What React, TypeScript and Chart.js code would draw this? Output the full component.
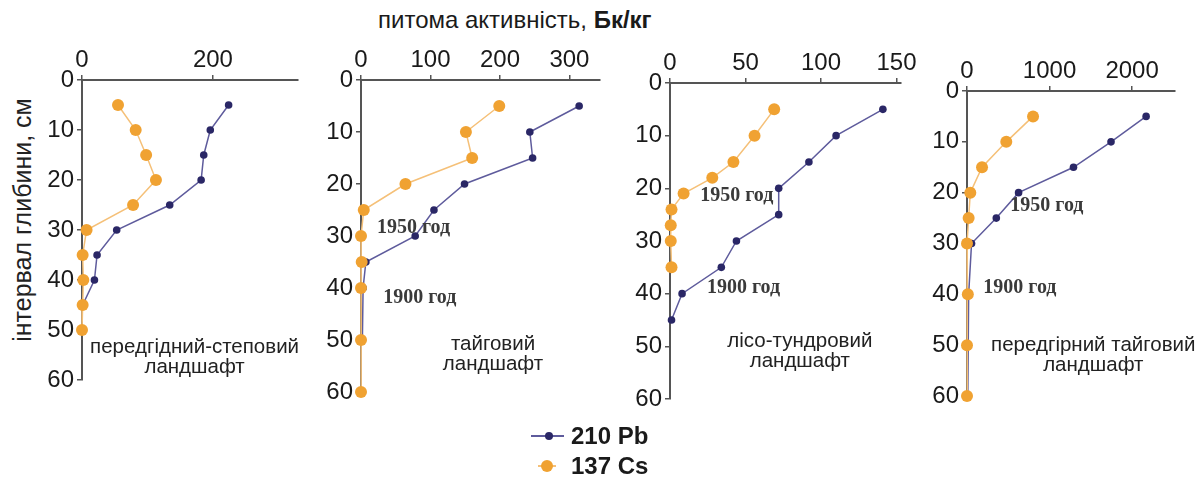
import React, { useEffect, useRef } from "react";
import { Chart, registerables } from "chart.js";

Chart.register(...registerables);
Chart.defaults.font.family = "'Liberation Sans', Arial, sans-serif";

// Depth of sampling interval, cm, and specific activity, Bq/kg, per landscape
const steppeDepthPb = [5, 10, 15, 20, 25, 30, 35, 40, 45];
const steppePb = [224, 196, 186, 182, 134, 53, 23, 19, 1];
const steppeDepthCs = [5, 10, 15, 20, 25, 30, 35, 40, 45, 50];
const steppeCs = [55, 82, 98, 113, 78, 7, 1, 2, 1, 0];

const taigaDepthPb = [5, 10, 15, 20, 25, 30, 35, 40, 50];
const taigaPb = [314, 243, 247, 149, 105, 78, 7, 3, 2];
const taigaDepthCs = [5, 10, 15, 20, 25, 30, 35, 40, 50, 60];
const taigaCs = [199, 151, 160, 64, 4, 0, 1, 0, 0, 0];

const tundraDepthPb = [5, 10, 15, 20, 25, 30, 35, 40, 45];
const tundraPb = [141, 110, 92, 72, 72, 44, 34, 8, 1];
const tundraDepthCs = [5, 10, 15, 18, 21, 24, 27, 30, 35];
const tundraCs = [69, 56, 42, 28, 9, 1, 0.5, 0.5, 1];

const foothillDepthPb = [5, 10, 15, 20, 25, 30, 40, 50, 60];
const foothillPb = [2170, 1745, 1290, 625, 355, 55, 20, 15, 10];
const foothillDepthCs = [5, 10, 15, 20, 25, 30, 40, 50, 60];
const foothillCs = [800, 476, 182, 40, 20, 0, 10, 0, 0];

// Axis tick values
const depthTicks = [0, 10, 20, 30, 40, 50, 60];
const steppeTicks = [0, 200];
const taigaTicks = [0, 100, 200, 300];
const tundraTicks = [0, 50, 100, 150];
const foothillTicks = [0, 1000, 2000];

const PB_LABEL = "210 Pb";
const CS_LABEL = "137 Cs";

const PB_DOT = "#2a2766";
const PB_LINE = "#5e5b9c";
const CS_DOT = "#f0a232";
const CS_LINE = "#f5c078";
const AXIS = "#555555";
const INK = "#1a1a1a";

const AXIS_W = 45;
const AXIS_H = 45;
const PAD_R = 34;
const PAD_B = 18;

type Note = { lines: string[]; x: number; y: number; kind: "year" | "place" };

type PanelSpec = {
  left: number;
  top: number;
  width: number;
  height: number;
  xMax: number;
  xTicks: number[];
  pbDepth: number[];
  pb: number[];
  csDepth: number[];
  cs: number[];
  notes: Note[];
};

const panels: PanelSpec[] = [
  {
    left: 82, top: 80, width: 216, height: 300, xMax: 330, xTicks: steppeTicks,
    pbDepth: steppeDepthPb, pb: steppePb, csDepth: steppeDepthCs, cs: steppeCs,
    notes: [{ lines: ["передгідний-степовий", "ландшафт"], x: 172, y: 53.4, kind: "place" }],
  },
  {
    left: 361, top: 80, width: 239, height: 312, xMax: 344, xTicks: taigaTicks,
    pbDepth: taigaDepthPb, pb: taigaPb, csDepth: taigaDepthCs, cs: taigaCs,
    notes: [
      { lines: ["1950 год"], x: 23, y: 28.5, kind: "year" },
      { lines: ["1900 год"], x: 32, y: 41.9, kind: "year" },
      { lines: ["тайговий", "ландшафт"], x: 190, y: 50.8, kind: "place" },
    ],
  },
  {
    left: 670, top: 83, width: 231, height: 316, xMax: 153, xTicks: tundraTicks,
    pbDepth: tundraDepthPb, pb: tundraPb, csDepth: tundraDepthCs, cs: tundraCs,
    notes: [
      { lines: ["1950 год"], x: 20, y: 21.4, kind: "year" },
      { lines: ["1900 год"], x: 24.5, y: 38.9, kind: "year" },
      { lines: ["лісо-тундровий", "ландшафт"], x: 86, y: 49.1, kind: "place" },
    ],
  },
  {
    left: 967, top: 91, width: 208, height: 305, xMax: 2520, xTicks: foothillTicks,
    pbDepth: foothillDepthPb, pb: foothillPb, csDepth: foothillDepthCs, cs: foothillCs,
    notes: [
      { lines: ["1950 год"], x: 525, y: 22.6, kind: "year" },
      { lines: ["1900 год"], x: 198, y: 38.8, kind: "year" },
      { lines: ["передгірний тайговий", "ландшафт"], x: 1530, y: 50, kind: "place" },
    ],
  },
];

const toPoints = (depth: number[], values: number[]) =>
  depth.map((d, i) => ({ x: values[i], y: d }));

// Draws the year markers and landscape captions in data coordinates
const makeNotesPlugin = (notes: Note[]) => ({
  id: "notes",
  afterDatasetsDraw(chart: any) {
    const { ctx } = chart;
    const xs = chart.scales.x;
    const ys = chart.scales.y;
    ctx.save();
    for (const n of notes) {
      const px = xs.getPixelForValue(n.x);
      const py = ys.getPixelForValue(n.y);
      ctx.textBaseline = "middle";
      if (n.kind === "year") {
        ctx.font = "bold 20px 'Liberation Serif', 'Times New Roman', serif";
        ctx.fillStyle = "#3a3a3a";
        ctx.textAlign = "left";
        ctx.fillText(n.lines[0], px, py);
      } else {
        ctx.font = "20.5px 'Liberation Sans', Arial, sans-serif";
        ctx.fillStyle = "#222";
        ctx.textAlign = "center";
        n.lines.forEach((t, i) => ctx.fillText(t, px, py + i * 20));
      }
    }
    ctx.restore();
  },
});

const axisCommon = {
  type: "linear" as const,
  grid: { drawOnChartArea: false, drawTicks: true, tickLength: 5, color: AXIS, lineWidth: 1.5 },
  border: { display: true, color: AXIS, width: 2 },
};

const plainLabel = (v: number | string) => String(v);

function Panel({ p }: { p: PanelSpec }) {
  const ref = useRef<HTMLCanvasElement>(null);
  const w = p.width + AXIS_W + PAD_R;
  const h = p.height + AXIS_H + PAD_B;

  useEffect(() => {
    if (!ref.current) return;
    const chart = new Chart(ref.current, {
      type: "scatter",
      data: {
        datasets: [
          {
            label: CS_LABEL,
            data: toPoints(p.csDepth, p.cs),
            showLine: true,
            borderColor: CS_LINE,
            borderWidth: 1.5,
            pointRadius: 6,
            pointBackgroundColor: CS_DOT,
            pointBorderColor: CS_DOT,
            pointBorderWidth: 0,
            clip: false,
            order: 0,
          },
          {
            label: PB_LABEL,
            data: toPoints(p.pbDepth, p.pb),
            showLine: true,
            borderColor: PB_LINE,
            borderWidth: 1.5,
            pointRadius: 3.8,
            pointBackgroundColor: PB_DOT,
            pointBorderColor: PB_DOT,
            pointBorderWidth: 0,
            clip: false,
            order: 1,
          },
        ],
      },
      options: {
        animation: false,
        responsive: false,
        maintainAspectRatio: false,
        events: [],
        layout: { padding: { left: 0, top: 0, right: PAD_R, bottom: PAD_B } },
        plugins: { legend: { display: false }, tooltip: { enabled: false } },
        scales: {
          x: {
            ...axisCommon,
            position: "top",
            min: 0,
            max: p.xMax,
            afterBuildTicks: (s: any) => {
              s.ticks = p.xTicks.map((v) => ({ value: v }));
            },
            afterFit: (s: any) => {
              s.height = AXIS_H;
            },
            ticks: {
              font: { size: 24 }, color: INK, padding: 0, maxRotation: 0, autoSkip: false,
              callback: plainLabel,
            },
          },
          y: {
            ...axisCommon,
            position: "left",
            reverse: true,
            min: 0,
            max: 60,
            afterBuildTicks: (s: any) => {
              s.ticks = depthTicks.map((v) => ({ value: v }));
            },
            afterFit: (s: any) => {
              s.width = AXIS_W;
            },
            ticks: { font: { size: 24 }, color: INK, padding: 3, autoSkip: false, callback: plainLabel },
          },
        },
      } as any,
      plugins: [makeNotesPlugin(p.notes)],
    });
    return () => chart.destroy();
  }, []);

  return (
    <canvas
      ref={ref}
      width={w}
      height={h}
      style={{ position: "absolute", left: p.left - AXIS_W, top: p.top - AXIS_H, width: w, height: h }}
    />
  );
}

function LegendRow({ y, label, line, dot, r, x1, x2, cx }: any) {
  return (
    <>
      <div style={{ position: "absolute", left: x1, top: y - 1, width: x2 - x1, height: 2, background: line }} />
      <div
        style={{
          position: "absolute", left: cx - r, top: y - r, width: r * 2, height: r * 2,
          borderRadius: "50%", background: dot,
        }}
      />
      <div
        style={{
          position: "absolute", left: 571, top: y - 14, height: 28, lineHeight: "28px",
          font: "bold 24px 'Liberation Sans', Arial, sans-serif", color: INK, whiteSpace: "nowrap",
        }}
      >
        {label}
      </div>
    </>
  );
}

export default function App() {
  return (
    <div
      style={{
        position: "absolute", left: 0, top: 0, width: 1203, height: 479,
        background: "#fff", overflow: "hidden", fontFamily: "'Liberation Sans', Arial, sans-serif",
      }}
    >
      <div
        style={{
          position: "absolute", left: 378, top: 5, height: 30, lineHeight: "30px",
          fontSize: 24, color: INK, whiteSpace: "nowrap",
        }}
      >
        питома активність, <b>Бк/кг</b>
      </div>
      <div
        style={{
          position: "absolute", left: 22, top: 220, fontSize: 25, color: "#222", whiteSpace: "nowrap",
          transform: "translate(-50%, -50%) rotate(-90deg)",
        }}
      >
        інтервал глибини, см
      </div>
      {panels.map((p, i) => (
        <Panel key={i} p={p} />
      ))}
      <LegendRow y={436} label={PB_LABEL} line={PB_LINE} dot={PB_DOT} r={4} x1={531} x2={564} cx={549} />
      <LegendRow y={466} label={CS_LABEL} line={CS_LINE} dot={CS_DOT} r={6} x1={538} x2={556} cx={547} />
    </div>
  );
}
